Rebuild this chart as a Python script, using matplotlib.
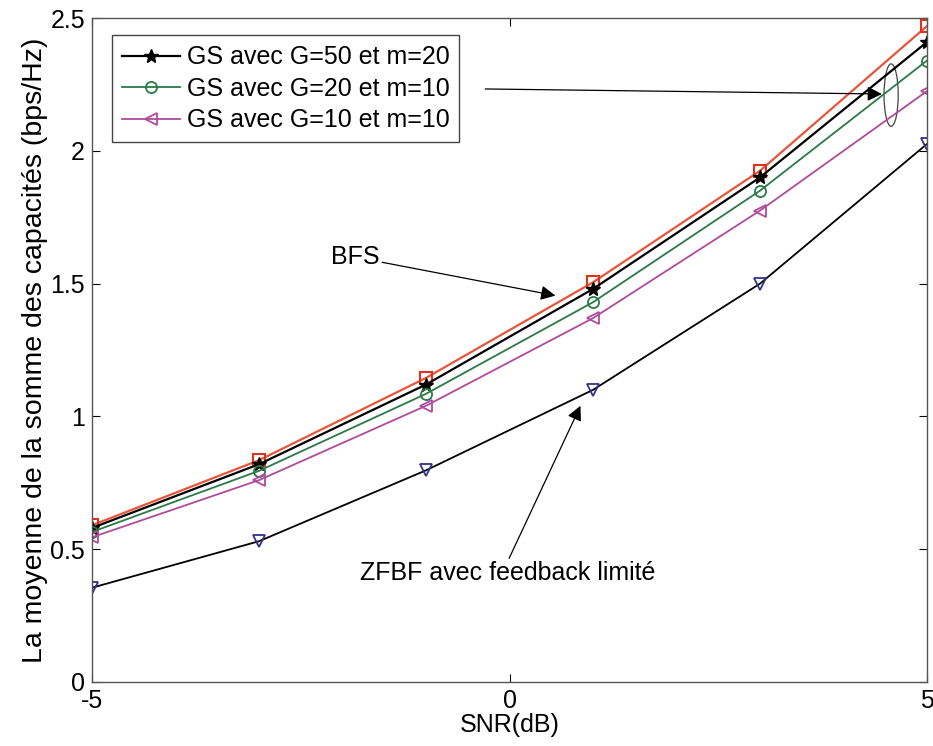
import matplotlib
matplotlib.use('Agg')
import matplotlib.pyplot as plt
from matplotlib.patches import Ellipse

plt.rcParams['font.family'] = ['Liberation Sans', 'DejaVu Sans']
plt.rcParams['axes.unicode_minus'] = False

snr = [-5, -3, -1, 1, 3, 5]
bfs = [0.59, 0.835, 1.145, 1.505, 1.925, 2.47]
gs_50_20 = [0.58, 0.82, 1.12, 1.48, 1.90, 2.41]
gs_20_10 = [0.565, 0.795, 1.085, 1.43, 1.85, 2.34]
gs_10_10 = [0.545, 0.76, 1.04, 1.37, 1.775, 2.225]
zfbf = [0.355, 0.53, 0.797, 1.10, 1.50, 2.026]

fs = 18

fig = plt.figure(figsize=(9.33, 7.46), dpi=100)
ax = fig.add_axes([0.0986, 0.0858, 0.895, 0.890])

ax.plot(snr, zfbf, color='black', lw=1.3, marker='v', ms=8, mfc='none',
        mec='#33338a', mew=1.3)
ax.plot(snr, bfs, color='#e8553a', lw=1.6, marker='s', ms=8, mfc='none',
        mec='#d9351e', mew=1.5)
l1, = ax.plot(snr, gs_50_20, color='black', lw=1.6, marker='*', ms=10)
l2, = ax.plot(snr, gs_20_10, color='#2a7a48', lw=1.3, marker='o', ms=8,
              mfc='none', mew=1.3)
l3, = ax.plot(snr, gs_10_10, color='#b04a9c', lw=1.3, marker='<', ms=8,
              mfc='none', mew=1.3)

ax.set_xlim(-5, 5)
ax.set_ylim(0, 2.5)
ax.set_xticks([-5, 0, 5])
ax.set_yticks([0, 0.5, 1, 1.5, 2, 2.5])
ax.set_yticklabels(['0', '0.5', '1', '1.5', '2', '2.5'])
ax.tick_params(direction='in', labelsize=fs, length=6, top=True, right=True,
               pad=5)
for s in ax.spines.values():
    s.set_color('#555555')
    s.set_linewidth(1.0)

ax.set_xlabel('SNR(dB)', fontsize=fs, labelpad=0)
ax.set_ylabel('La moyenne de la somme des capacités (bps/Hz)', fontsize=20.5,
              labelpad=2)

leg = ax.legend([l1, l2, l3],
                ['GS avec G=50 et m=20', 'GS avec G=20 et m=10',
                 'GS avec G=10 et m=10'],
                loc='upper left', bbox_to_anchor=(0.024, 0.974),
                fontsize=fs, fancybox=False, framealpha=1,
                edgecolor='#444444', handlelength=2.3, handletextpad=0.28,
                borderpad=0.4, labelspacing=0.3, borderaxespad=0)
leg.get_frame().set_linewidth(1.0)

arrow = dict(arrowstyle='-|>', color='black', lw=0.9, mutation_scale=22,
             shrinkA=0, shrinkB=0)

ax.annotate('BFS', xy=(0.55, 1.455), xytext=(-1.85, 1.6), fontsize=fs,
            ha='center', va='center', arrowprops=arrow)
ax.annotate('ZFBF avec feedback limité', xy=(0.85, 1.04),
            xytext=(-0.02, 0.41), fontsize=fs, ha='center', va='center',
            arrowprops=dict(arrow, relpos=(0.5, 1.0)))
ax.annotate('', xy=(4.46, 2.214), xytext=(-0.29, 2.233), arrowprops=arrow)
ax.add_patch(Ellipse((4.57, 2.21), 0.17, 0.235, fill=False,
                     edgecolor='#444444', lw=0.9))

plt.savefig('out.png', dpi=100)
